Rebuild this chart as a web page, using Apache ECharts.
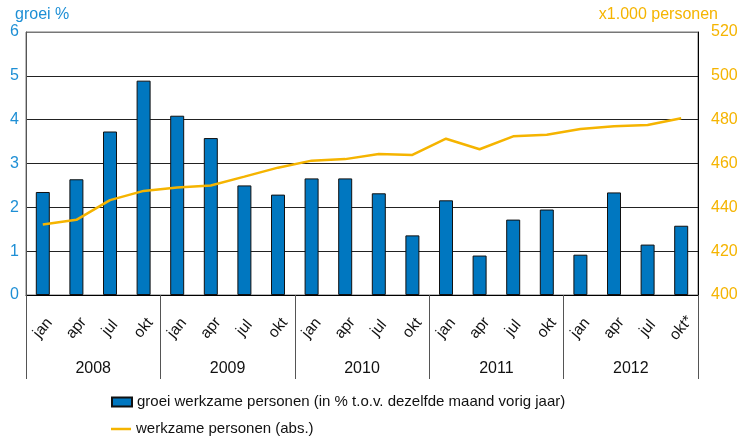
<!DOCTYPE html>
<html><head><meta charset="utf-8">
<script src="https://cdn.jsdelivr.net/npm/echarts@6/dist/echarts.min.js"></script>
<style>html,body{margin:0;padding:0;background:#fff}#c{width:741px;height:441px}</style>
</head><body><div id="c"></div>
<script>
const months = ['jan','apr','jul','okt','jan','apr','jul','okt','jan','apr','jul','okt','jan','apr','jul','okt','jan','apr','jul','okt*'];
const years = ['2008','2009','2010','2011','2012'];
const groei = [2.35,2.64,3.73,4.89,4.09,3.58,2.50,2.29,2.66,2.66,2.32,1.36,2.16,0.90,1.72,1.95,0.92,2.34,1.15,1.58];
const werkzaam = [432.2,434.3,443.3,447.5,449.1,450.0,454.0,458.1,461.3,462.0,464.3,463.9,471.3,466.5,472.4,473.1,475.7,477.0,477.6,480.6];
const leftTicks = {min:0,max:6,interval:1};
const rightTicks = {min:400,max:520,interval:20};
const nameBar = 'groei werkzame personen (in % t.o.v. dezelfde maand vorig jaar)';
const nameLine = 'werkzame personen (abs.)';

const FONT = 'Liberation Sans, Arial, sans-serif';
const BLUE_TXT = '#1e8fd5';
const ORANGE = '#f5b400';
const legendText = {fontSize:15,color:'#111',fontFamily:FONT,lineHeight:16};
const chart = echarts.init(document.getElementById('c'));
chart.setOption({
  animation:false,
  textStyle:{fontFamily:FONT},
  grid:{left:26,right:43,top:32,bottom:146,show:true,borderColor:'#777',borderWidth:1},
  graphic:[
    {type:'text',left:15,top:7,style:{text:'groei %',fill:BLUE_TXT,font:'16px '+FONT}},
    {type:'text',right:23,top:7,style:{text:'x1.000 personen',fill:ORANGE,font:'16px '+FONT}}
  ],
  legend:[
    {left:106,top:389,itemWidth:20,itemHeight:9,textStyle:legendText,
     data:[{name:nameBar,icon:'rect'}]},
    {left:106,top:416,itemWidth:20,itemHeight:2.5,textStyle:legendText,
     data:[{name:nameLine,icon:'rect'}]}
  ],
  xAxis:[
    {type:'category',data:months,position:'bottom',
     axisLine:{lineStyle:{color:'#000',width:1}},axisTick:{show:false},
     axisLabel:{rotate:50,align:'center',verticalAlign:'middle',margin:33,fontSize:15.5,color:'#111',interval:0}},
    {type:'category',data:years,position:'bottom',
     axisLine:{show:false},
     axisTick:{show:true,length:84,lineStyle:{color:'#555',width:1}},
     axisLabel:{margin:66,fontSize:16,color:'#111'}}
  ],
  yAxis:[
    {type:'value',min:leftTicks.min,max:leftTicks.max,interval:leftTicks.interval,
     axisLine:{show:true,lineStyle:{color:'#555'}},axisTick:{show:false},
     axisLabel:{color:BLUE_TXT,fontSize:16,margin:7},
     splitLine:{lineStyle:{color:['#222','#222','#222','#222','#222','#222','#777'],width:1}}},
    {type:'value',min:rightTicks.min,max:rightTicks.max,interval:rightTicks.interval,position:'right',
     axisLine:{show:true,lineStyle:{color:'#000'}},axisTick:{show:false},
     axisLabel:{color:ORANGE,fontSize:16,margin:13},splitLine:{show:false}}
  ],
  series:[
    {name:nameBar,type:'bar',data:groei,xAxisIndex:0,yAxisIndex:0,barWidth:14,
     itemStyle:{color:'#0077c0',borderColor:'#111',borderWidth:1}},
    {name:nameLine,type:'line',data:werkzaam,xAxisIndex:0,yAxisIndex:1,showSymbol:false,symbol:'none',
     lineStyle:{color:ORANGE,width:2.5},itemStyle:{color:ORANGE}}
  ]
});
</script></body></html>
